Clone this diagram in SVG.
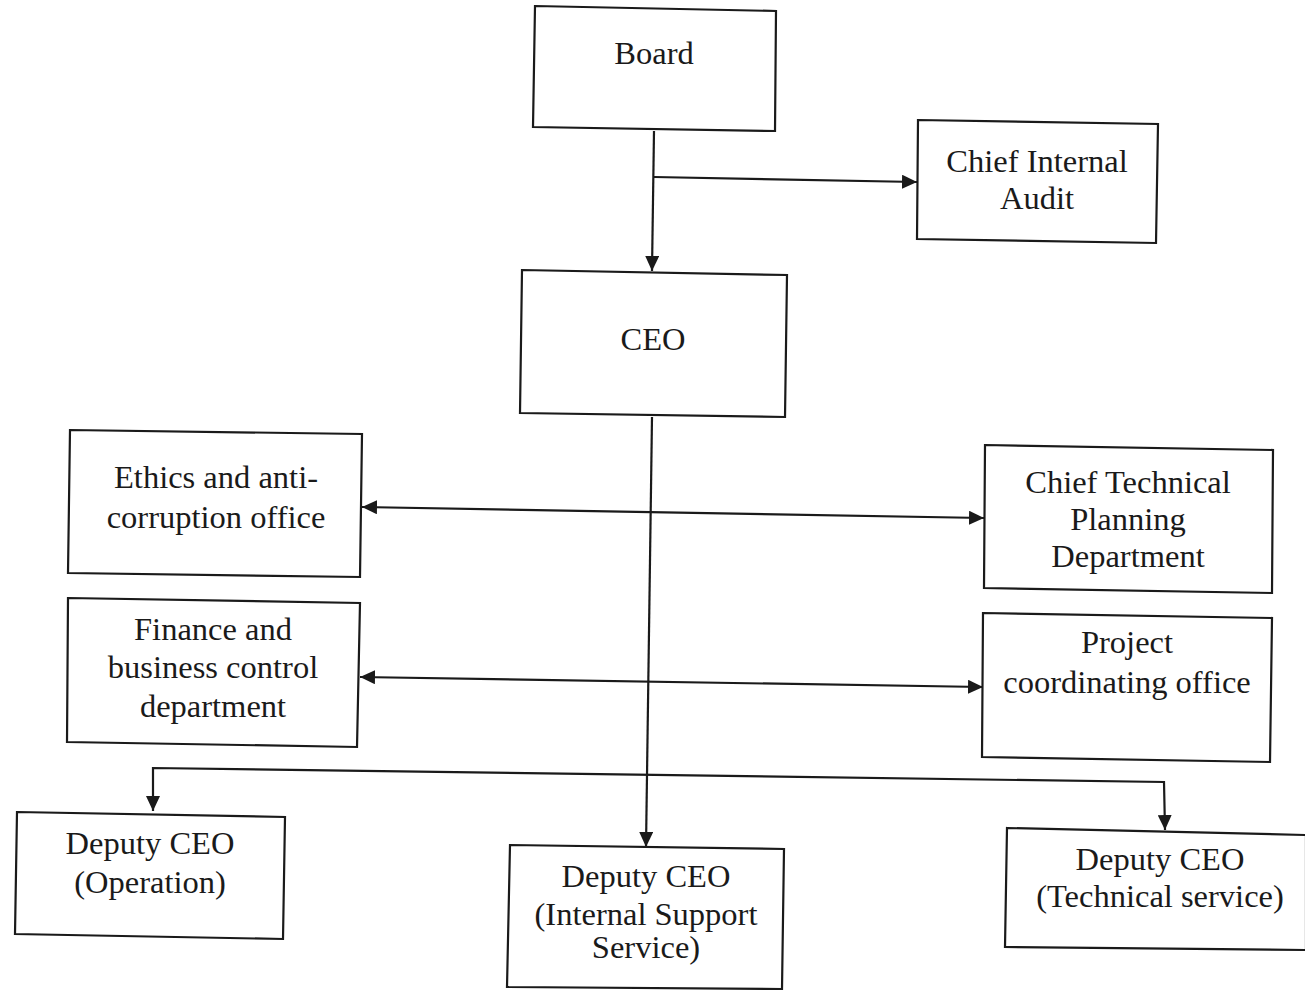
<svg xmlns="http://www.w3.org/2000/svg" width="1305" height="990" viewBox="0 0 1305 990">
<style>
.box{fill:#fff;stroke:#1a1a1a;stroke-width:2.2}
.lbl{font-family:"Liberation Serif","Times New Roman",serif;font-size:32.5px;fill:#1a1a1a;text-anchor:middle}
.con{fill:none;stroke:#1a1a1a;stroke-width:2.2}
</style>
<defs>
<marker id="ah" markerUnits="userSpaceOnUse" markerWidth="15" markerHeight="14" viewBox="0 0 15 14" refX="15" refY="7" orient="auto-start-reverse">
<path d="M0,0 L15,7 L0,14 z" fill="#1a1a1a"/>
</marker>
</defs>
<rect width="1305" height="990" fill="#fff"/>
<g id="connectors">
<path class="con" d="M654,131 L652,271" marker-end="url(#ah)"/>
<path class="con" d="M654,177 L917,182" marker-end="url(#ah)"/>
<path class="con" d="M652,417 L646,847" marker-end="url(#ah)"/>
<path class="con" d="M362,507 L984,518" marker-start="url(#ah)" marker-end="url(#ah)"/>
<path class="con" d="M360,677 L983,687" marker-start="url(#ah)" marker-end="url(#ah)"/>
<path class="con" d="M153,811 L153,768 L1164,782 L1165,830" marker-start="url(#ah)" marker-end="url(#ah)"/>
</g>
<g id="board">
<polygon class="box" points="535,6 776,11 775,131 533,127"/>
<text class="lbl" x="654" y="64">Board</text>
</g>
<g id="chief-internal-audit">
<polygon class="box" points="918,120 1158,124 1156,243 917,239"/>
<text class="lbl" x="1037" y="172">Chief Internal</text>
<text class="lbl" x="1037" y="209">Audit</text>
</g>
<g id="ceo">
<polygon class="box" points="522,270 787,275 785,417 520,413"/>
<text class="lbl" x="653" y="350">CEO</text>
</g>
<g id="ethics">
<polygon class="box" points="70,430 362,434 360,577 68,573"/>
<text class="lbl" x="216" y="488">Ethics and anti-</text>
<text class="lbl" x="216" y="528">corruption office</text>
</g>
<g id="finance">
<polygon class="box" points="68,598 360,603 357,747 67,742"/>
<text class="lbl" x="213" y="640">Finance and</text>
<text class="lbl" x="213" y="678">business control</text>
<text class="lbl" x="213" y="717">department</text>
</g>
<g id="chief-technical-planning">
<polygon class="box" points="985,445 1273,450 1272,593 984,588"/>
<text class="lbl" x="1128" y="493">Chief Technical</text>
<text class="lbl" x="1128" y="530">Planning</text>
<text class="lbl" x="1128" y="567">Department</text>
</g>
<g id="project-coordinating">
<polygon class="box" points="983,613 1272,618 1270,762 982,757"/>
<text class="lbl" x="1127" y="653">Project</text>
<text class="lbl" x="1127" y="693">coordinating office</text>
</g>
<g id="deputy-operation">
<polygon class="box" points="17,812 285,817 283,939 15,934"/>
<text class="lbl" x="150" y="854">Deputy CEO</text>
<text class="lbl" x="150" y="893">(Operation)</text>
</g>
<g id="deputy-internal-support">
<polygon class="box" points="510,845 784,849 782,989 507,987"/>
<text class="lbl" x="646" y="887">Deputy CEO</text>
<text class="lbl" x="646" y="925">(Internal Support</text>
<text class="lbl" x="646" y="958">Service)</text>
</g>
<g id="deputy-technical">
<polygon class="box" points="1007,828 1306,835 1306,950 1005,947"/>
<text class="lbl" x="1160" y="870">Deputy CEO</text>
<text class="lbl" x="1160" y="907">(Technical service)</text>
</g>
</svg>
